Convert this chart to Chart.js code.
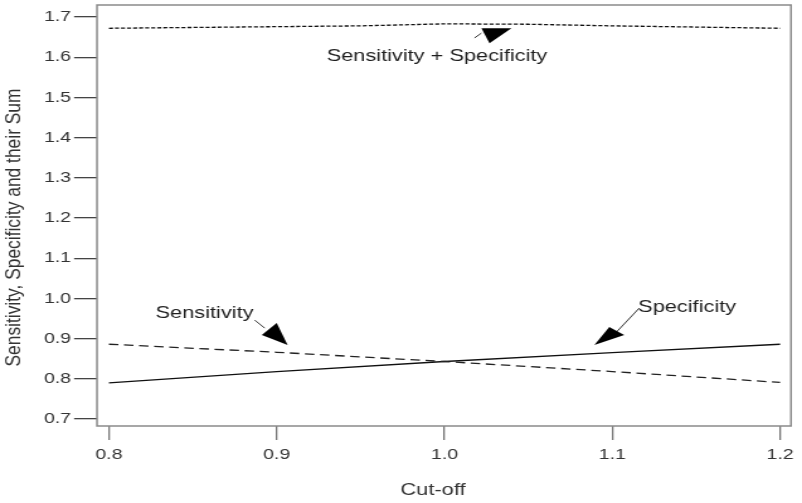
<!DOCTYPE html>
<html>
<head>
<meta charset="utf-8">
<script src="https://cdn.jsdelivr.net/npm/chart.js@4/dist/chart.umd.min.js"></script>
<style>
html,body{margin:0;padding:0;background:#fff;overflow:hidden;}
#wrap{width:637px;height:503px;transform:scaleX(1.25903);transform-origin:0 0;}
canvas{display:block;}
</style>
</head>
<body>
<div id="wrap"><canvas id="c" width="637" height="503"></canvas></div>
<script>
// ---- data ----
const cutoffs      = [0.8, 0.9, 1.0, 1.1, 1.2];
const sensitivity  = [0.886, 0.866, 0.843, 0.818, 0.791];
const specificity  = [0.790, 0.818, 0.843, 0.865, 0.886];
const sumCutoffs   = [0.8, 0.9, 0.95, 1.0, 1.05, 1.1, 1.2];
const sumValues    = [1.672, 1.676, 1.678, 1.683, 1.682, 1.678, 1.672];
const xTicks = [0.8, 0.9, 1.0, 1.1, 1.2];
const yTicks = [0.7, 0.8, 0.9, 1.0, 1.1, 1.2, 1.3, 1.4, 1.5, 1.6, 1.7];
const xTitle = 'Cut-off';
const yTitle = 'Sensitivity, Specificity and their Sum';

// annotations (data coordinates)
const labels = [
  {text: 'Sensitivity + Specificity', x: 0.9955, y: 1.603},
  {text: 'Sensitivity', x: 0.857, y: 0.964},
  {text: 'Specificity', x: 1.1446, y: 0.979}
];
const arrows = [
  {line: [[1.0179, 1.648], [1.022, 1.660]], head: [[1.022, 1.672], [1.0399, 1.672], [1.0268, 1.635]]},
  {line: [[0.8869, 0.946], [0.8929, 0.926]], head: [[0.900, 0.939], [0.8911, 0.909], [0.9065, 0.884]]},
  {line: [[1.1161, 0.976], [1.1024, 0.916]], head: [[1.0982, 0.929], [1.1071, 0.909], [1.0893, 0.884]]}
];

const FONT = '"Liberation Sans", Arial, Helvetica, sans-serif';
const pts = (xs, ys) => xs.map((x, i) => ({x: x, y: ys[i]}));

const boxAndNotes = {
  id: 'boxAndNotes',
  afterDatasetsDraw(chart) {
    const {ctx, chartArea: a, scales: {x, y}} = chart;
    ctx.save();
    ctx.strokeStyle = '#8a8a8a';
    ctx.lineWidth = 1.5;
    ctx.strokeRect(a.left, a.top, a.right - a.left, a.bottom - a.top);

    // annotation labels
    ctx.fillStyle = '#1e1e1e';
    ctx.font = '17.3px ' + FONT;
    ctx.textAlign = 'center';
    ctx.textBaseline = 'middle';
    labels.forEach(l => ctx.fillText(l.text, x.getPixelForValue(l.x), y.getPixelForValue(l.y)));

    // arrows
    arrows.forEach(ar => {
      ctx.strokeStyle = '#333';
      ctx.lineWidth = 1;
      ctx.beginPath();
      ctx.moveTo(x.getPixelForValue(ar.line[0][0]), y.getPixelForValue(ar.line[0][1]));
      ctx.lineTo(x.getPixelForValue(ar.line[1][0]), y.getPixelForValue(ar.line[1][1]));
      ctx.stroke();
      ctx.fillStyle = '#000';
      ctx.beginPath();
      ar.head.forEach((p, i) => {
        const px = x.getPixelForValue(p[0]), py = y.getPixelForValue(p[1]);
        if (i === 0) ctx.moveTo(px, py); else ctx.lineTo(px, py);
      });
      ctx.closePath();
      ctx.fill();
    });

    // axis titles
    ctx.fillStyle = '#333';
    ctx.font = '17.4px ' + FONT;
    ctx.fillText(xTitle, (a.left + a.right) / 2 - 8.7, 490);
    ctx.translate(11.2, (a.top + a.bottom) / 2 + 12);
    ctx.rotate(-Math.PI / 2);
    ctx.fillText(yTitle, 0, 0);
    ctx.restore();
  }
};

new Chart(document.getElementById('c'), {
  type: 'line',
  data: {
    datasets: [
      {label: 'Sensitivity + Specificity', data: pts(sumCutoffs, sumValues), borderColor: '#111', borderWidth: 1.3, borderDash: [3.2, 1.6], pointRadius: 0, fill: false, tension: 0},
      {label: 'Sensitivity', data: pts(cutoffs, sensitivity), borderColor: '#222', borderWidth: 1.3, borderDash: [7.5, 4.5], pointRadius: 0, fill: false, tension: 0},
      {label: 'Specificity', data: pts(cutoffs, specificity), borderColor: '#111', borderWidth: 1.3, pointRadius: 0, fill: false, tension: 0}
    ]
  },
  options: {
    responsive: false,
    animation: false,
    devicePixelRatio: 1,
    layout: {padding: {top: 5, right: 8.74, left: 0, bottom: 0}},
    plugins: {legend: {display: false}, tooltip: {enabled: false}},
    scales: {
      x: {
        type: 'linear',
        min: 0.7929, max: 1.2065,
        afterBuildTicks: s => { s.ticks = xTicks.map(v => ({value: v})); },
        afterFit: s => { s.height = 77; s.paddingLeft = 0; s.paddingRight = 0; },
        border: {display: false},
        grid: {drawOnChartArea: false, drawTicks: true, tickLength: 14, color: '#777', lineWidth: 1.3},
        ticks: {color: '#333', font: {family: FONT, size: 15.5}, padding: 5, maxRotation: 0,
                callback: v => v.toFixed(1)},
        title: {display: false}
      },
      y: {
        type: 'linear',
        min: 0.6826, max: 1.7299,
        afterBuildTicks: s => { s.ticks = yTicks.map(v => ({value: v})); },
        afterFit: s => { s.width = 77.04; s.paddingTop = 0; s.paddingBottom = 0; },
        border: {display: false},
        grid: {drawOnChartArea: false, drawTicks: true, tickLength: 18.2, color: '#444', lineWidth: 1.3},
        ticks: {color: '#333', font: {family: FONT, size: 15.5}, padding: 2.4,
                callback: v => v.toFixed(1)},
        title: {display: false}
      }
    }
  },
  plugins: [boxAndNotes]
});
</script>
</body>
</html>
